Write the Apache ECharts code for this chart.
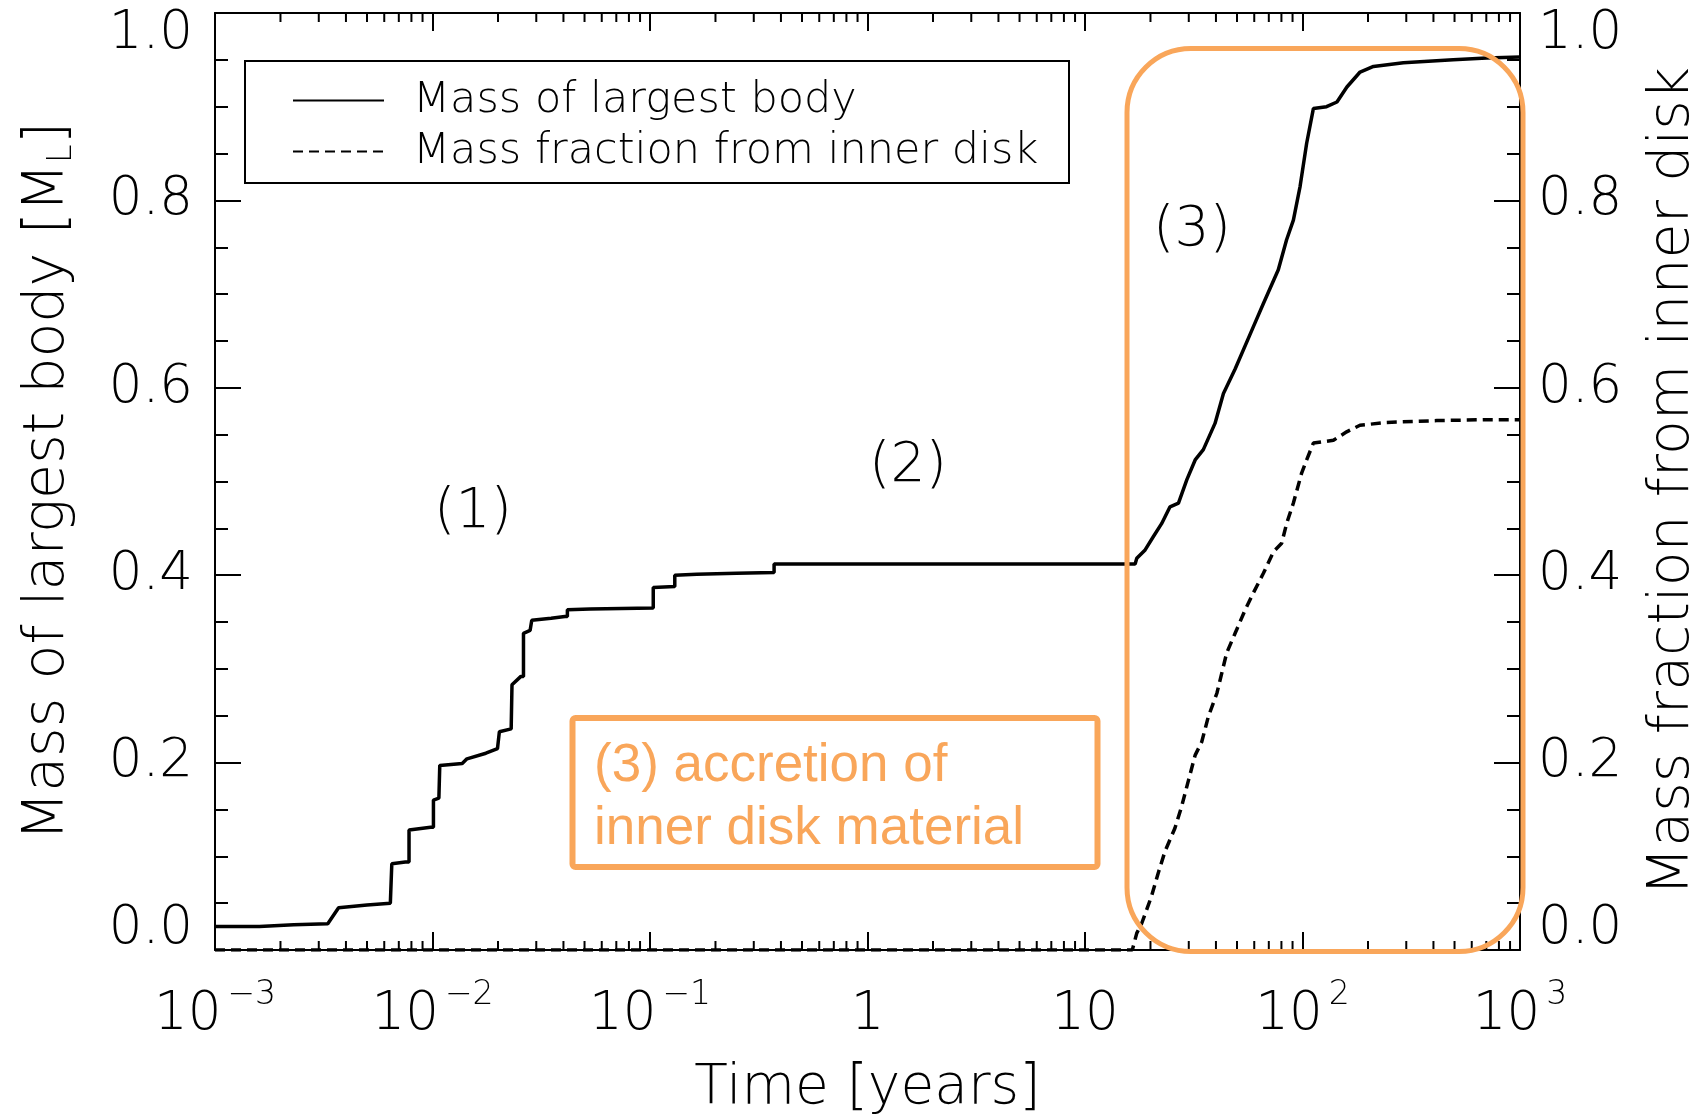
<!DOCTYPE html>
<html><head><meta charset="utf-8">
<script src="https://cdn.jsdelivr.net/npm/echarts@6/dist/echarts.min.js"></script>
<style>html,body{margin:0;padding:0;background:#fff}#c{width:1703px;height:1117px}</style>
</head><body><div id="c"></div>
<script>
// ---- data ----
const timeLargest = [0.001, 0.0016, 0.0023, 0.0033, 0.0037, 0.0050, 0.0064, 0.0065, 0.0065, 0.0075, 0.0078, 0.0078, 0.0098, 0.0101, 0.0101, 0.0107, 0.0108, 0.0137, 0.0144, 0.0176, 0.0199, 0.0203, 0.0203, 0.0230, 0.0232, 0.0232, 0.0255, 0.0262, 0.0262, 0.0281, 0.0286, 0.0286, 0.0351, 0.0406, 0.0417, 0.0417, 0.053, 0.1035, 0.1035, 0.130, 0.130, 0.164, 0.25, 0.372, 0.372, 17.0, 17.3, 18.9, 20.6, 22.5, 24.6, 26.9, 29.4, 32.1, 35.0, 39.6, 43.3, 49.0, 59.4, 66.1, 77.4, 84.5, 90.8, 97.5, 104.5, 112.2, 129, 144, 160, 184, 212, 291, 493, 703, 1000];
const massLargest = [0.025, 0.025, 0.027, 0.028, 0.045, 0.048, 0.050, 0.050, 0.092, 0.094, 0.094, 0.128, 0.131, 0.131, 0.160, 0.162, 0.197, 0.199, 0.204, 0.210, 0.215, 0.215, 0.233, 0.236, 0.236, 0.283, 0.292, 0.292, 0.338, 0.341, 0.341, 0.352, 0.354, 0.356, 0.356, 0.363, 0.364, 0.365, 0.387, 0.388, 0.400, 0.401, 0.402, 0.403, 0.412, 0.412, 0.418, 0.427, 0.441, 0.455, 0.473, 0.477, 0.502, 0.523, 0.534, 0.562, 0.594, 0.620, 0.665, 0.690, 0.726, 0.758, 0.779, 0.815, 0.861, 0.898, 0.900, 0.905, 0.921, 0.937, 0.943, 0.947, 0.950, 0.952, 0.953];
const timeInner = [0.001, 16.5, 17.3, 18.2, 20.2, 21.7, 23.3, 25.9, 27.8, 29.9, 32.1, 34.4, 36.9, 40.4, 44.8, 49.0, 54.5, 59.4, 66.1, 73.5, 80.2, 84.5, 90.8, 99.1, 104.5, 112.2, 138.7, 159.6, 183.7, 243.8, 414, 703, 1000];
const fracInner = [0, 0, 0.018, 0.028, 0.057, 0.082, 0.105, 0.130, 0.153, 0.181, 0.208, 0.222, 0.249, 0.274, 0.317, 0.338, 0.363, 0.381, 0.402, 0.425, 0.434, 0.455, 0.477, 0.509, 0.523, 0.541, 0.544, 0.553, 0.560, 0.563, 0.565, 0.566, 0.566];
const minorTickTimes = [2e-3,3e-3,4e-3,5e-3,6e-3,7e-3,8e-3,9e-3, 2e-2,3e-2,4e-2,5e-2,6e-2,7e-2,8e-2,9e-2, 0.2,0.3,0.4,0.5,0.6,0.7,0.8,0.9, 2,3,4,5,6,7,8,9, 20,30,40,50,60,70,80,90, 200,300,400,500,600,700,800,900];
const seriesNames = ['Mass of largest body', 'Mass fraction from inner disk'];
const regionLabels = ['(1)', '(2)', '(3)'];
const boxText = ['(3) accretion of', 'inner disk material'];

const FONT = "'DejaVu Sans'";
const FW = 200;
const ORANGE = '#F9A65A';
const zip = (a, b) => a.map((v, i) => [v, b[i]]);

function xLabel(v) {
  const e = Math.round(Math.log10(v));
  if (e === 0) return '{b|1}';
  if (e === 1) return '{b|10}';
  return '{b|10}{s|' + (e < 0 ? '\u2212' : '') + Math.abs(e) + '}';
}
const xRich = {
  b: {fontFamily: FONT, fontWeight: FW, fontSize: 53, lineHeight: 73, color: '#000'},
  s: {fontFamily: FONT, fontWeight: FW, fontSize: 33, lineHeight: 34, verticalAlign: 'top', color: '#000', padding: [0, 0, 0, 6]}
};
const axLine = {show: true, onZero: false, lineStyle: {color: '#000', width: 2}};
const tickStyle = {color: '#000', width: 2};

function yAxisCfg(pos, margin, name, nameGap, rich) {
  return {
    type: 'value', min: 0, max: 1, interval: 0.2, position: pos,
    axisLine: axLine,
    axisTick: {show: true, inside: true, length: 26, lineStyle: tickStyle},
    minorTick: {show: true, splitNumber: 4, length: 13, lineStyle: tickStyle},
    splitLine: {show: false},
    axisLabel: {show: true, margin: margin, formatter: v => v.toFixed(1),
      fontFamily: FONT, fontWeight: FW, fontSize: 53, lineHeight: 42, color: '#000',
      verticalAlignMinLabel: 'bottom', verticalAlignMaxLabel: 'top'},
    name: name, nameLocation: 'middle', nameGap: nameGap, nameRotate: 90,
    nameTextStyle: {fontFamily: FONT, fontWeight: FW, fontSize: 57, lineHeight: 62, color: '#000', rich: rich}
  };
}

const chart = echarts.init(document.getElementById('c'), null, {renderer: 'canvas'});
chart.setOption({
  animation: false,
  backgroundColor: '#fff',
  grid: {left: 215, right: 183, top: 13, bottom: 167, containLabel: false, outerBoundsMode: 'none'},
  xAxis: [
    {type: 'log', logBase: 10, min: 0.001, max: 1000, position: 'bottom',
     axisLine: axLine,
     axisTick: {show: true, inside: true, length: 18, lineStyle: tickStyle},
     splitLine: {show: false},
     axisLabel: {show: true, margin: 29, formatter: xLabel, rich: xRich},
     name: 'Time [years]', nameLocation: 'middle', nameGap: 109,
     nameTextStyle: {fontFamily: FONT, fontWeight: FW, fontSize: 55, lineHeight: 60, color: '#000'}},
    {type: 'log', logBase: 10, min: 0.001, max: 1000, position: 'top',
     axisLine: axLine,
     axisTick: {show: true, inside: true, length: 18, lineStyle: tickStyle},
     splitLine: {show: false},
     axisLabel: {show: false}}
  ],
  yAxis: [
    yAxisCfg('left', 22, '{n|Mass of largest body [M}{sub|L}{n|]}', 136,
      {n: {fontFamily: FONT, fontWeight: FW, fontSize: 57, lineHeight: 62, color: '#000'},
       sub: {fontFamily: FONT, fontWeight: FW, fontSize: 34, lineHeight: 42, verticalAlign: 'bottom', color: '#000'}}),
    yAxisCfg('right', 18, 'Mass fraction from inner disk', 122, undefined)
  ],
  legend: {
    data: seriesNames, orient: 'vertical', left: 292, top: 79, padding: 0, itemGap: 8,
    itemWidth: 91, itemHeight: 14, selectedMode: false,
    lineStyle: {width: 2},
    itemStyle: {opacity: 0},
    textStyle: {fontFamily: FONT, fontWeight: FW, fontSize: 43, lineHeight: 40, color: '#000', padding: [0, 0, 0, 24]}
  },
  series: [
    {type: 'line', name: seriesNames[0], xAxisIndex: 0, yAxisIndex: 0, data: zip(timeLargest, massLargest),
     symbol: 'none', showSymbol: false, lineStyle: {color: '#000', width: 3.5}, itemStyle: {color: '#000'}, z: 3},
    {type: 'line', name: seriesNames[1], xAxisIndex: 0, yAxisIndex: 1, data: zip(timeInner, fracInner),
     symbol: 'none', showSymbol: false, lineStyle: {color: '#000', width: 3.5, type: [10, 6]}, itemStyle: {color: '#000'}, z: 3},
    {type: 'custom', name: 'minorTicks', xAxisIndex: 0, yAxisIndex: 0, silent: true, z: 4,
     data: minorTickTimes.map(t => [t, 0.5]),
     renderItem: function (params, api) {
       const x = api.coord([api.value(0), api.value(1)])[0];
       const cs = params.coordSys;
       const yb = cs.y + cs.height, yt = cs.y;
       return {type: 'group', children: [
         {type: 'line', shape: {x1: x, y1: yb, x2: x, y2: yb - 9}, style: {stroke: '#000', lineWidth: 2}},
         {type: 'line', shape: {x1: x, y1: yt, x2: x, y2: yt + 9}, style: {stroke: '#000', lineWidth: 2}}
       ]};
     }}
  ],
  graphic: [
    {type: 'rect', shape: {x: 245, y: 61, width: 824, height: 122}, style: {fill: 'none', stroke: '#000', lineWidth: 2}, z: 5},
    {type: 'text', x: 473, y: 513, style: {text: regionLabels[0], fontFamily: FONT, fontWeight: FW, fontSize: 55, fill: '#000', align: 'center', verticalAlign: 'middle'}, z: 5},
    {type: 'text', x: 908, y: 467, style: {text: regionLabels[1], fontFamily: FONT, fontWeight: FW, fontSize: 55, fill: '#000', align: 'center', verticalAlign: 'middle'}, z: 5},
    {type: 'text', x: 1192, y: 231, style: {text: regionLabels[2], fontFamily: FONT, fontWeight: FW, fontSize: 55, fill: '#000', align: 'center', verticalAlign: 'middle'}, z: 5},
    {type: 'rect', shape: {x: 1127, y: 48.5, width: 396, height: 903, r: 64}, style: {fill: 'none', stroke: ORANGE, lineWidth: 5}, z: 6},
    {type: 'rect', shape: {x: 572.5, y: 718, width: 525, height: 149, r: 3}, style: {fill: 'none', stroke: ORANGE, lineWidth: 6}, z: 6},
    {type: 'text', x: 594, y: 766, style: {text: boxText[0], fontFamily: "'Liberation Sans', Arial", fontSize: 53, fill: ORANGE, align: 'left', verticalAlign: 'middle'}, z: 6},
    {type: 'text', x: 594, y: 829, style: {text: boxText[1], fontFamily: "'Liberation Sans', Arial", fontSize: 53, fill: ORANGE, align: 'left', verticalAlign: 'middle'}, z: 6}
  ]
});
</script>
</body></html>
